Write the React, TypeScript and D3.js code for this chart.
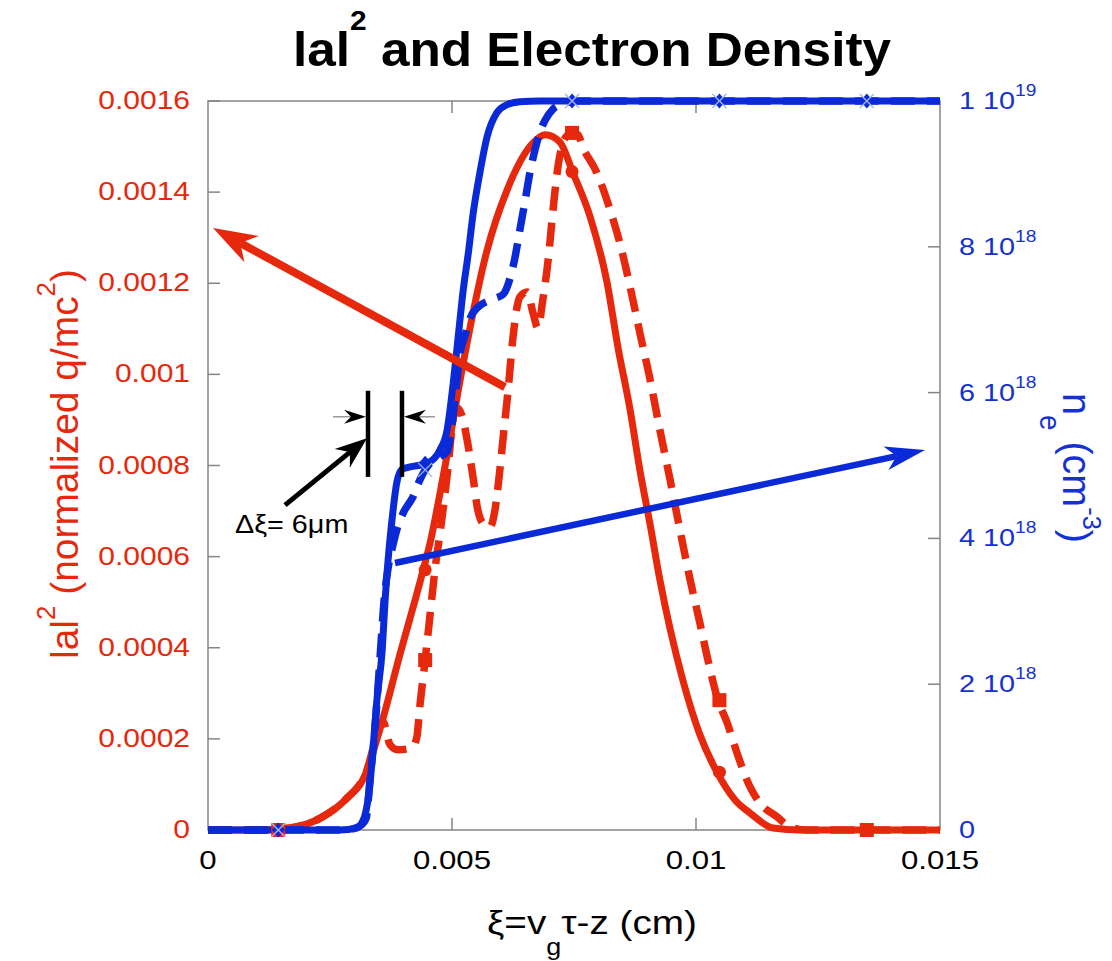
import React from 'react';
import * as d3 from 'd3';

// ---------------- data ----------------
// xi (cm) and |a|^2 for the solid red curve
const redSolidX = [0, 0.00107, 0.00168, 0.0023, 0.00281, 0.00322, 0.00352, 0.00393, 0.00441, 0.00455, 0.00486, 0.00523, 0.00572, 0.00613, 0.00666, 0.00691, 0.00721, 0.00748, 0.00783, 0.00818, 0.0084, 0.00865, 0.00885, 0.00906, 0.00926, 0.00973, 0.01008, 0.01043, 0.0108, 0.01111, 0.01158, 0.01213, 0.015];
const redSolidY = [0, 0, 0.0000044, 0.000026, 0.000066, 0.000121, 0.00022, 0.000384, 0.000571, 0.00063, 0.0008, 0.001025, 0.001273, 0.001405, 0.001508, 0.001526, 0.00151, 0.001442, 0.001346, 0.0012, 0.00106, 0.000922, 0.00079, 0.00067, 0.000549, 0.000329, 0.000209, 0.000127, 0.000066, 0.000037, 0.0000044, 0, 0];

// dashed red |a|^2
const redDashX = [0, 0.00107, 0.00168, 0.0023, 0.00281, 0.00322, 0.00359, 0.00373, 0.00389, 0.00418, 0.00428, 0.00434, 0.00445, 0.00455, 0.00465, 0.00475, 0.00492, 0.00502, 0.0051, 0.0052, 0.00531, 0.00543, 0.00553, 0.00566, 0.00578, 0.00588, 0.00598, 0.00605, 0.00615, 0.00625, 0.00639, 0.00654, 0.00666, 0.00676, 0.00686, 0.00697, 0.00707, 0.00717, 0.00732, 0.00746, 0.00758, 0.00768, 0.00797, 0.00824, 0.00844, 0.00865, 0.00885, 0.00906, 0.00926, 0.00947, 0.00967, 0.00988, 0.01008, 0.01023, 0.01045, 0.01064, 0.01084, 0.01111, 0.01131, 0.01166, 0.01193, 0.01227, 0.015];
const redDashY = [0, 0, 0.0000044, 0.000026, 0.000066, 0.000121, 0.000237, 0.000187, 0.000176, 0.00018, 0.000204, 0.00027, 0.000373, 0.000472, 0.000571, 0.000648, 0.000797, 0.0009, 0.000926, 0.000911, 0.000856, 0.000775, 0.000702, 0.00067, 0.000665, 0.000702, 0.00079, 0.000863, 0.000966, 0.001082, 0.00117, 0.001181, 0.001135, 0.001102, 0.001163, 0.001251, 0.001361, 0.001455, 0.001519, 0.00153, 0.001526, 0.001499, 0.001442, 0.001361, 0.001288, 0.001192, 0.001091, 0.000988, 0.000878, 0.000768, 0.000659, 0.000549, 0.000454, 0.00038, 0.000285, 0.000235, 0.000169, 0.000094, 0.000059, 0.000029, 0.0000066, 0, 0];

// solid blue electron density (units of 1e18 cm^-3)
const blueSolidX = [0, 0.0027, 0.00305, 0.00316, 0.00322, 0.00332, 0.00338, 0.00346, 0.00357, 0.00363, 0.00369, 0.00377, 0.00387, 0.00398, 0.00414, 0.00449, 0.00475, 0.0049, 0.00502, 0.00512, 0.00523, 0.00533, 0.00543, 0.00557, 0.00572, 0.00592, 0.00613, 0.00639, 0.0068, 0.015];
const blueSolidY = [0, 0, 0.027, 0.11, 0.21, 0.64, 1.1, 1.78, 2.47, 3.16, 3.7, 4.25, 4.77, 4.95, 4.98, 5.03, 5.21, 5.49, 6.1, 6.72, 7.41, 7.89, 8.44, 9.01, 9.51, 9.84, 9.95, 9.99, 10, 10];

// dashed blue electron density
const blueDashX = [0, 0.00281, 0.00311, 0.00324, 0.00332, 0.0034, 0.00348, 0.00355, 0.00361, 0.00369, 0.00379, 0.00387, 0.004, 0.0042, 0.00434, 0.00445, 0.00455, 0.00475, 0.0049, 0.005, 0.00508, 0.00516, 0.00527, 0.00537, 0.00553, 0.00578, 0.00605, 0.00619, 0.00629, 0.00639, 0.0065, 0.0066, 0.0067, 0.0068, 0.00691, 0.00707, 0.00727, 0.00752, 0.015];
const blueDashY = [0, 0, 0.055, 0.16, 0.69, 1.23, 1.92, 2.61, 3.16, 3.59, 3.91, 4.12, 4.35, 4.57, 4.8, 4.94, 5.03, 5.12, 5.19, 5.56, 6.04, 6.52, 6.79, 7.02, 7.17, 7.27, 7.35, 7.57, 7.85, 8.23, 8.64, 9.03, 9.33, 9.57, 9.74, 9.89, 9.96, 10, 10];

// markers
const markerX = [0.00144, 0.00445, 0.00746, 0.01048, 0.0135];
const redSolidMarkY = [0, 0.000571, 0.001445, 0.000127, 0];
const redDashMarkY = [0, 0.000373, 0.00153, 0.000285, 0];
const blueSolidMarkY = [0, 5.03, 10, 10, 10];
const blueDashMarkY = [0, 4.94, 10, 10, 10];

// ticks
const xTicks = [0, 0.005, 0.01, 0.015];
const xTickLabels = ['0', '0.005', '0.01', '0.015'];
const leftTicks = [0, 0.0002, 0.0004, 0.0006, 0.0008, 0.001, 0.0012, 0.0014, 0.0016];
const leftTickLabels = ['0', '0.0002', '0.0004', '0.0006', '0.0008', '0.001', '0.0012', '0.0014', '0.0016'];
const rightTicks = [0, 2, 4, 6, 8, 10];
const rightTickMantissa = ['0', '2', '4', '6', '8', '1'];
const rightTickExponent = ['', '18', '18', '18', '18', '19'];

// ---------------- style ----------------
const RED = '#e6280c';
const BLUE = '#0a2ad8';
const BLUE_TEXT = '#1431d4';
const LIGHT_BLUE = '#a3b2f3';
const AXIS = '#858585';
const FONT = '"Liberation Sans", Arial, Helvetica, sans-serif';

const W = 1112;
const H = 961;
const x = d3.scaleLinear().domain([0, 0.015]).range([208, 940]);
const yL = d3.scaleLinear().domain([0, 0.0016]).range([830, 101]);
const yR = d3.scaleLinear().domain([0, 10]).range([830, 101]);

type P = [number, number];

function headPts(tip: P, from: P, len: number, half: number, notch: number) {
  const dx = from[0] - tip[0];
  const dy = from[1] - tip[1];
  const L = Math.hypot(dx, dy);
  const ux = dx / L, uy = dy / L;
  const nx = -uy, ny = ux;
  const bx = tip[0] + ux * len, by = tip[1] + uy * len;
  const p1: P = [bx + nx * half, by + ny * half];
  const p2: P = [bx - nx * half, by - ny * half];
  const nt: P = [tip[0] + ux * notch, tip[1] + uy * notch];
  return { poly: [tip, p1, nt, p2].map((p) => p.join(',')).join(' '), notch: nt };
}

function Arrow({ from, to, color, width, len, half, notch, shaftColor }: any) {
  const h = headPts(to, from, len, half, notch);
  return (
    <g>
      <line x1={from[0]} y1={from[1]} x2={h.notch[0]} y2={h.notch[1]} stroke={shaftColor || color} strokeWidth={width} />
      <polygon points={h.poly} fill={color} />
    </g>
  );
}

function STxt({ x0, y0, sx = 1.2, rot = 0, anchor = 'start', fs, fill, weight, tl, children }: any) {
  return (
    <g transform={`translate(${x0},${y0}) scale(${sx},1)${rot ? ` rotate(${rot})` : ''}`}>
      <text x={0} y={0} textAnchor={anchor} fontSize={fs} fill={fill} fontFamily={FONT} fontWeight={weight}
        textLength={tl} lengthAdjust={tl ? 'spacingAndGlyphs' : undefined}>
        {children}
      </text>
    </g>
  );
}

export default function App() {
  const lineL = d3.line<P>().x((d) => x(d[0])).y((d) => yL(d[1])).curve(d3.curveMonotoneX);
  const lineR = d3.line<P>().x((d) => x(d[0])).y((d) => yR(d[1])).curve(d3.curveMonotoneX);
  const zip = (a: number[], b: number[]) => a.slice(0, Math.min(a.length, b.length)).map((v, i) => [v, b[i]] as P);

  const redSolid = zip(redSolidX, redSolidY);
  const redDash = zip(redDashX, redDashY);
  const blueSolid = zip(blueSolidX, blueSolidY);
  const blueDash = zip(blueDashX, blueDashY);

  const L = (p: P): P => [x(p[0]), yL(p[1])];
  // annotations in data coordinates (xi, |a|^2)
  const redArrowFrom = L([0.006086, 0.000972]);
  const redArrowTo = L([0.0001025, 0.001321]);
  const blueArrowFrom = L([0.003832, 0.000586]);
  const blueArrowTo = L([0.014693, 0.000834]);
  const blackArrowFrom = L([0.001578, 0.000713]);
  const blackArrowTo = L([0.003258, 0.00086]);
  const barX = [0.003279, 0.003975];
  const barY = [0.000775, 0.000964];
  const smallY = 0.000907;
  const labelPos = L([0.000553, 0.000652]);

  return (
    <svg width={W} height={H} style={{ position: 'absolute', left: 0, top: 0, background: '#fff' }}>
      <rect x={0} y={0} width={W} height={H} fill="#fff" />

      {/* title */}
      <text x={293} y={66} fontSize={48} fontWeight="bold" fontFamily={FONT} fill="#000" textLength={598} lengthAdjust="spacingAndGlyphs">
        lal<tspan fontSize={28} dy={-36}>2</tspan><tspan dy={36}> and Electron Density</tspan>
      </text>

      {/* frame */}
      <rect x={x(0)} y={yL(0.0016)} width={x(0.015) - x(0)} height={yL(0) - yL(0.0016)} fill="none" stroke={AXIS} strokeWidth={1.5} />
      {xTicks.slice(1, -1).map((t) => (
        <g key={'xt' + t}>
          <line x1={x(t)} x2={x(t)} y1={yL(0)} y2={yL(0) - 12} stroke={AXIS} strokeWidth={1.5} />
          <line x1={x(t)} x2={x(t)} y1={yL(0.0016)} y2={yL(0.0016) + 12} stroke={AXIS} strokeWidth={1.5} />
        </g>
      ))}
      {leftTicks.map((t) => (
        <line key={'lt' + t} x1={x(0)} x2={x(0) + 12} y1={yL(t)} y2={yL(t)} stroke={AXIS} strokeWidth={1.5} />
      ))}
      {rightTicks.map((t) => (
        <line key={'rt' + t} x1={x(0.015)} x2={x(0.015) - 12} y1={yR(t)} y2={yR(t)} stroke={AXIS} strokeWidth={1.5} />
      ))}

      {/* tick labels */}
      {xTicks.map((t, i) => (
        <STxt key={'xl' + t} x0={x(t)} y0={869} anchor="middle" fs={26} fill="#000">{xTickLabels[i]}</STxt>
      ))}
      {leftTicks.map((t, i) => (
        <STxt key={'ll' + t} x0={190} y0={yL(t) + 8} anchor="end" fs={25} fill={RED}>{leftTickLabels[i]}</STxt>
      ))}
      {rightTicks.map((t, i) => (
        <STxt key={'rl' + t} x0={959} y0={yR(t) + 8} anchor="start" fs={24} fill={BLUE_TEXT}>
          {rightTickExponent[i] ? (
            <>
              {rightTickMantissa[i]} 10<tspan fontSize={16} dy={-13}>{rightTickExponent[i]}</tspan>
            </>
          ) : rightTickMantissa[i]}
        </STxt>
      ))}

      {/* axis titles */}
      <text x={487} y={934} fontSize={33} fontFamily={FONT} fill="#000" textLength={210} lengthAdjust="spacingAndGlyphs">
        ξ=v<tspan fontSize={23} dy={21}>g</tspan><tspan dy={-21}>τ-z (cm)</tspan>
      </text>
      <STxt x0={78} y0={464} rot={-90} anchor="middle" fs={33} fill={RED} tl={390}>
        lal<tspan fontSize={22} dy={-19}>2</tspan><tspan dy={19}> (normalized q/mc</tspan><tspan fontSize={22} dy={-19}>2</tspan><tspan dy={19}>)</tspan>
      </STxt>
      <STxt x0={1063} y0={393} rot={90} anchor="start" fs={34} fill={BLUE_TEXT} tl={150}>
        n<tspan fontSize={24} dy={19}>e</tspan><tspan dy={-19}> (cm</tspan><tspan fontSize={22} dy={-17}>-3</tspan><tspan dy={17}>)</tspan>
      </STxt>

      {/* curves */}
      <path d={lineL(redDash) || ''} fill="none" stroke={RED} strokeWidth={7.5} strokeDasharray="24,12" />
      <path d={lineL(redSolid) || ''} fill="none" stroke={RED} strokeWidth={7} />
      <path d={lineR(blueDash) || ''} fill="none" stroke={BLUE} strokeWidth={7.5} strokeDasharray="24,12" />
      <path d={lineR(blueSolid) || ''} fill="none" stroke={BLUE} strokeWidth={7} />

      {/* markers */}
      {markerX.map((mx, i) => (
        <circle key={'rc' + i} cx={x(mx)} cy={yL(redSolidMarkY[i])} r={6.5} fill={RED} />
      ))}
      {markerX.map((mx, i) => (
        <rect key={'rs' + i} x={x(mx) - 7} y={yL(redDashMarkY[i]) - 7} width={14} height={14} fill={RED} />
      ))}
      {markerX.map((mx, i) => {
        const cx = x(mx), cy = yR(blueSolidMarkY[i]);
        return <polygon key={'bd' + i} points={`${cx},${cy - 7.5} ${cx + 6.5},${cy} ${cx},${cy + 7.5} ${cx - 6.5},${cy}`} fill={BLUE} />;
      })}
      {markerX.map((mx, i) => {
        const cx = x(mx), cy = yR(blueDashMarkY[i]);
        return (
          <g key={'bx' + i} stroke={LIGHT_BLUE} strokeWidth={1.4}>
            <line x1={cx - 7} y1={cy - 7} x2={cx + 7} y2={cy + 7} />
            <line x1={cx - 7} y1={cy + 7} x2={cx + 7} y2={cy - 7} />
          </g>
        );
      })}

      {/* annotations */}
      <Arrow from={redArrowFrom} to={redArrowTo} color={RED} width={8} len={44} half={15} notch={31} />
      <Arrow from={blueArrowFrom} to={blueArrowTo} color={BLUE} width={6.5} len={40} half={12} notch={29} />
      <Arrow from={blackArrowFrom} to={blackArrowTo} color="#000" width={5} len={32} half={12} notch={22} />
      {barX.map((bx, i) => (
        <line key={'bar' + i} x1={x(bx)} x2={x(bx)} y1={yL(barY[0])} y2={yL(barY[1])} stroke="#000" strokeWidth={4.5} />
      ))}
      <Arrow from={L([0.002561, smallY])} to={[x(barX[0]) - 2, yL(smallY)]} color="#000" shaftColor="#999" width={1.5} len={22} half={7} notch={15} />
      <Arrow from={L([0.004652, smallY])} to={[x(barX[1]) + 2, yL(smallY)]} color="#000" shaftColor="#999" width={1.5} len={22} half={7} notch={15} />
      <STxt x0={labelPos[0]} y0={labelPos[1]} fs={25} fill="#000" sx={1.15}>Δξ= 6μm</STxt>
    </svg>
  );
}
